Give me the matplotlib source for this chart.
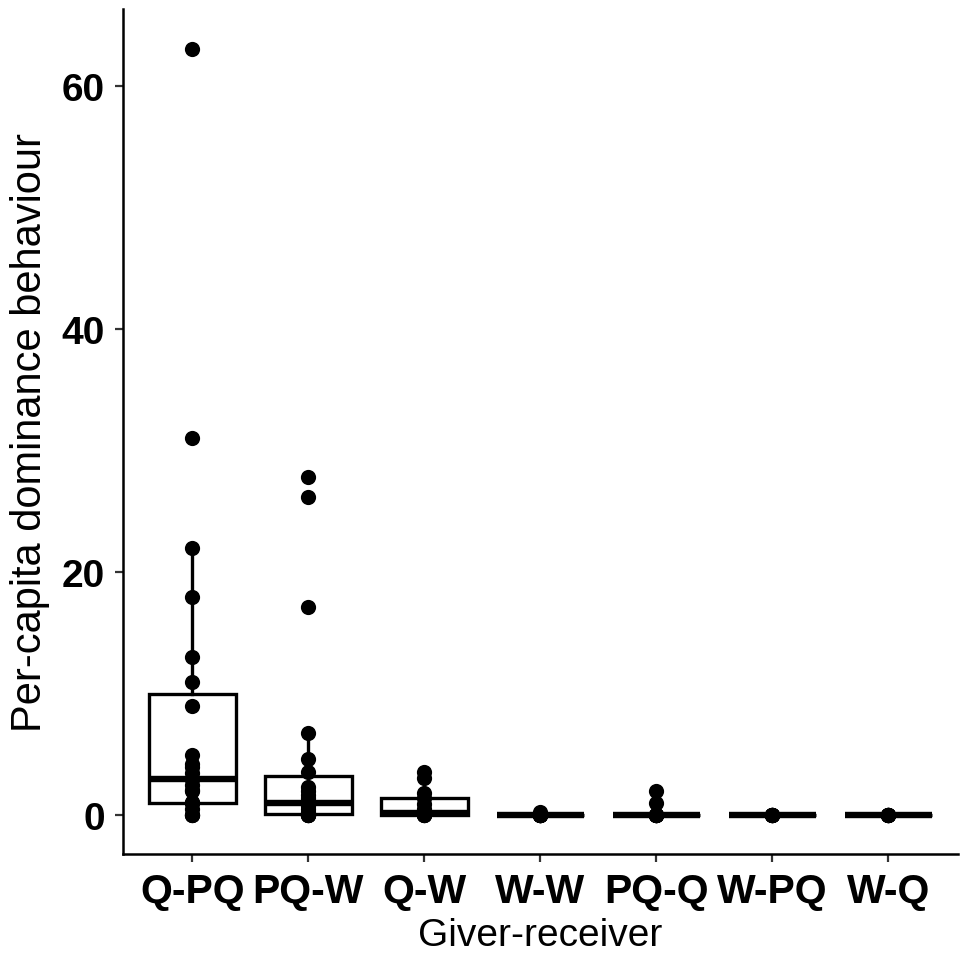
import matplotlib
matplotlib.use("Agg")
import matplotlib.pyplot as plt

plt.rcParams['font.family'] = ['Liberation Sans', 'DejaVu Sans']

# giver-receiver groups, in the order shown on the x axis
groups = ["Q-PQ", "PQ-W", "Q-W", "W-W", "PQ-Q", "W-PQ", "W-Q"]

# per-capita dominance behaviour
q_pq = [0, 0, 0, 0.5, 1.0, 1.0, 1.1, 2.0, 2.1, 2.5, 3.0, 3.0, 3.5, 4.0, 4.2,
        5.0, 9.0, 11.0, 13.0, 18.0, 22.0, 31.0, 63.0]
pq_w = [0, 0, 0, 0, 0, 0.1, 0.3, 0.5, 0.8, 0.9, 1.0, 1.1, 1.4, 1.7, 2.0, 2.3,
        3.6, 4.6, 6.8, 17.1, 26.2, 27.8]
q_w = [0, 0, 0, 0, 0.1, 0.15, 0.2, 0.5, 0.9, 1.4, 1.8, 3.1, 3.6]
w_w = [0, 0, 0, 0, 0, 0, 0, 0, 0, 0, 0.3]
pq_q = [0, 0, 0, 0, 0, 0, 0, 0, 0, 1.0, 2.0]
w_pq = [0, 0, 0, 0, 0, 0, 0, 0]
w_q = [0, 0, 0, 0, 0, 0, 0, 0]

values = [q_pq, pq_w, q_w, w_w, pq_q, w_pq, w_q]
xpos = list(range(1, len(groups) + 1))

fig = plt.figure(figsize=(9.6, 9.54), dpi=100)
ax = fig.add_axes([0.128, 0.104, 0.87, 0.886])

ax.boxplot(values, positions=xpos, widths=0.75, showfliers=False,
           showcaps=False, patch_artist=True, whis=1.5,
           boxprops=dict(facecolor="white", edgecolor="black", linewidth=2.4),
           whiskerprops=dict(color="black", linewidth=2.4),
           medianprops=dict(color="black", linewidth=4.6, solid_capstyle="butt"))

# every observation as a dot on the group centre
for x, vals in zip(xpos, values):
    ax.scatter([x] * len(vals), vals, s=120, color="black", zorder=5,
               linewidths=0)

ax.set_xlim(0.4, 7.6)
ax.set_ylim(-3.16, 66.36)
ax.set_xticks(xpos)
ax.set_xticklabels(groups)
ax.set_yticks([0, 20, 40, 60])

for side in ["top", "right"]:
    ax.spines[side].set_visible(False)
for side in ["left", "bottom"]:
    ax.spines[side].set_linewidth(1.8)

ax.tick_params(axis="both", length=6, width=1.6, color="#333333")
ax.tick_params(axis="x", labelsize=29.5, pad=7)
ax.tick_params(axis="y", labelsize=28, pad=7)
for lab in ax.get_xticklabels() + ax.get_yticklabels():
    lab.set_fontweight("bold")

ax.set_xlabel("Giver-receiver", fontsize=28, labelpad=5)
ax.set_ylabel("Per-capita dominance behaviour", fontsize=30, labelpad=8)

fig.savefig("out.png", dpi=100)
plt.close(fig)
